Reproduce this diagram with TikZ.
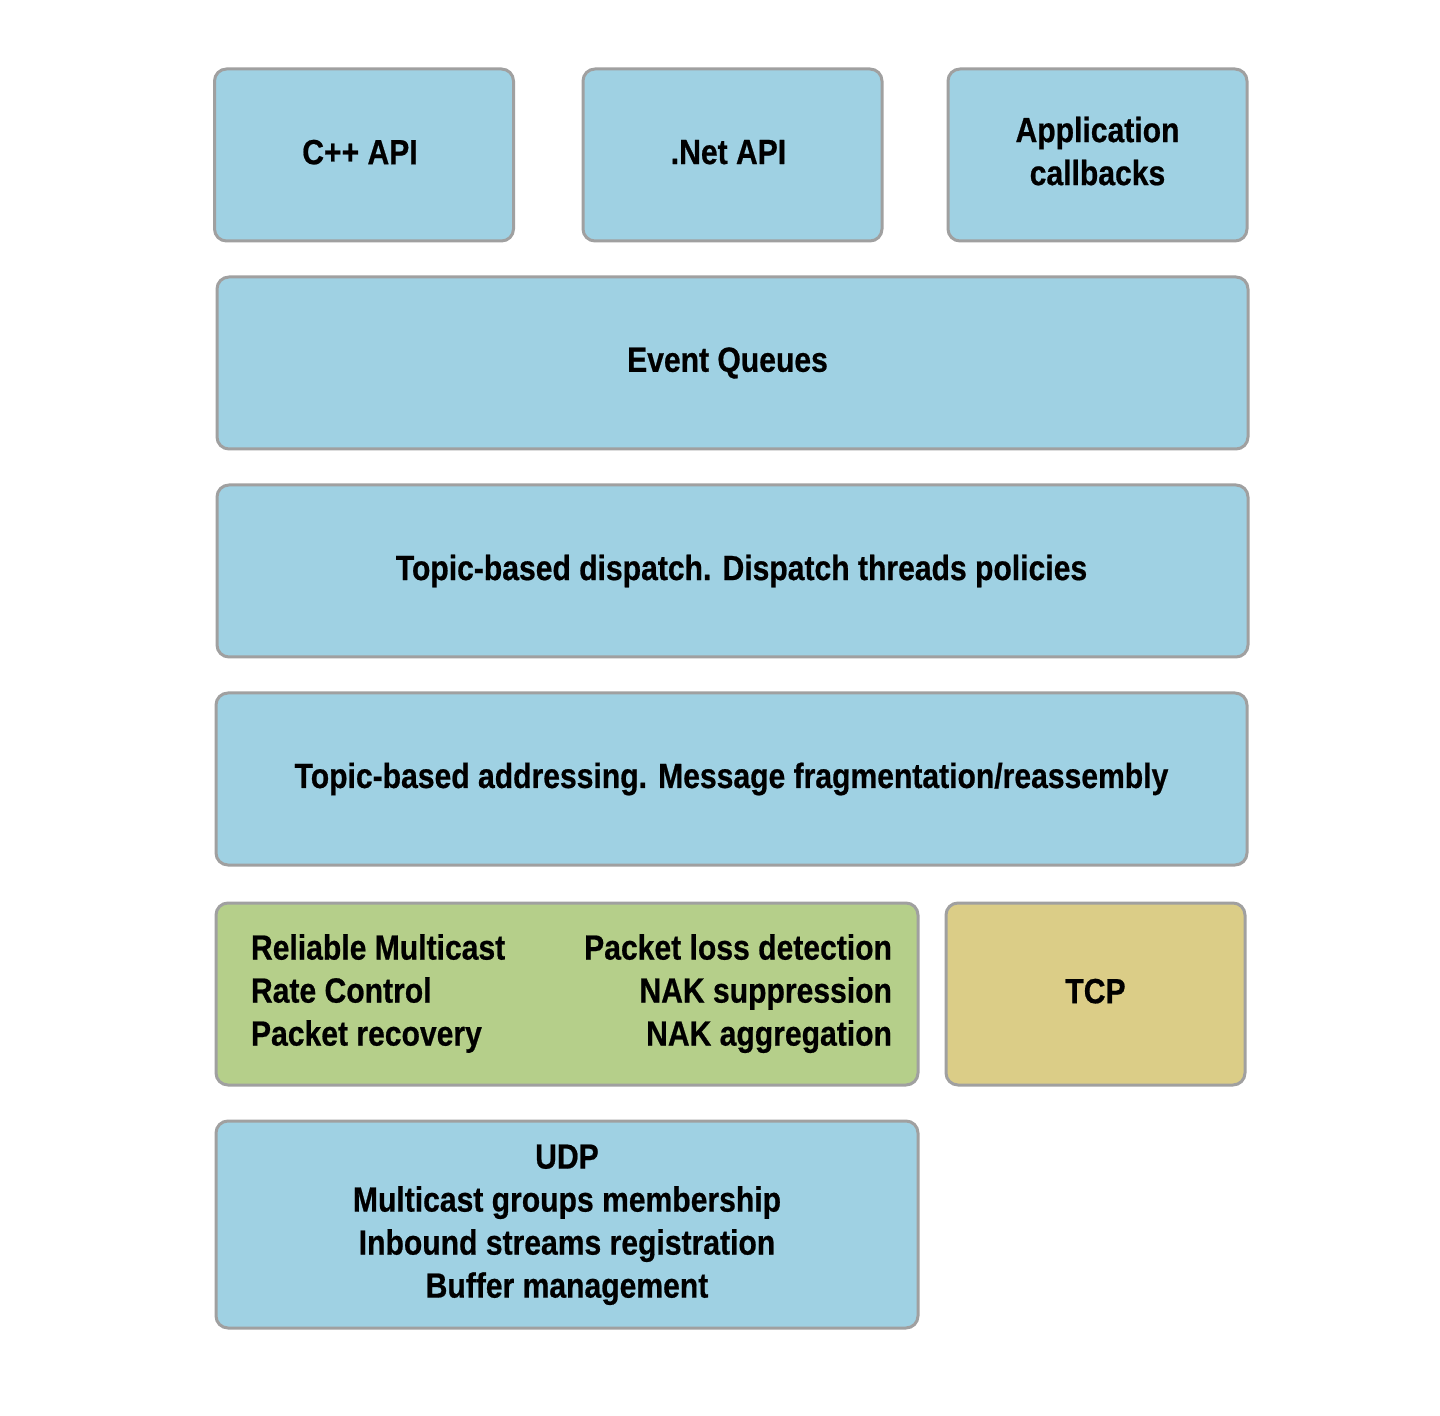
\documentclass[tikz,border=0pt]{standalone}
\usepackage{fontspec}
\setmainfont{Liberation Sans}[FakeStretch=0.86, BoldFeatures={FakeBold=0.6}]
\usepackage{tikz}
\usetikzlibrary{positioning}

\definecolor{layerblue}{RGB}{159,209,227}
\definecolor{layergreen}{RGB}{181,207,138}
\definecolor{layersand}{RGB}{219,205,135}
\definecolor{layerframe}{RGB}{160,160,160}

\begin{document}
\begin{tikzpicture}[
      x=0.5pt, y=-0.5pt,
      layer/.style={rectangle, draw=layerframe, line width=1.5pt, rounded corners=6pt,
        fill=layerblue, align=center, inner sep=0pt,
        font=\fontsize{17.5}{21.5}\selectfont\bfseries},
      small/.style={layer, minimum width=149.5pt, minimum height=86pt},
      wide/.style={layer, minimum width=515.5pt, minimum height=86pt},
      half/.style={layer, minimum width=351pt},
      rm/.style={half, fill=layergreen, minimum height=91pt},
      tcp/.style={layer, fill=layersand, minimum width=149.5pt, minimum height=91pt}
    ]
    \useasboundingbox (0,0) rectangle (1440,1416);

    % top row
    \node[small] (cpp) at (364,155) {\hspace*{-4pt}\raisebox{3pt}{C++ API}};
    \node[small] (net) at (732.5,155) {\hspace*{-4pt}\raisebox{3pt}{.Net API}};
    \node[small] (cb) at (1097.5,155)
      {\raisebox{2pt}{\begin{tabular}{@{}c@{}}Application\\callbacks\end{tabular}}};

    % middle layers
    \node[wide] (eq) at (732.5,363) {\hspace*{-5pt}Event Queues};
    \node[wide] (disp) at (732.5,571) {\hspace*{9pt}Topic-based dispatch. Dispatch threads policies};
    \node[wide] (addr) at (731.5,779) {Topic-based addressing. Message fragmentation/reassembly};

    % transport
    \node[rm] (rmc) at (567,994) {%
      \hspace*{4.5pt}\begin{tabular*}{320.5pt}{@{}l@{\extracolsep{\fill}}r@{}}
        Reliable Multicast & Packet loss detection\\
        Rate Control & NAK suppression\\
        Packet recovery & NAK aggregation
      \end{tabular*}};
    \node[tcp] (tcp) at (1095.5,994) {\raisebox{3pt}{TCP}};

    \node[half, minimum height=103.5pt] (udp) at (567,1224.5)
      {\raisebox{-2pt}{\begin{tabular}{@{}c@{}}UDP\\Multicast groups membership\\Inbound streams registration\\Buffer management\end{tabular}}};
  \end{tikzpicture}
\end{document}
